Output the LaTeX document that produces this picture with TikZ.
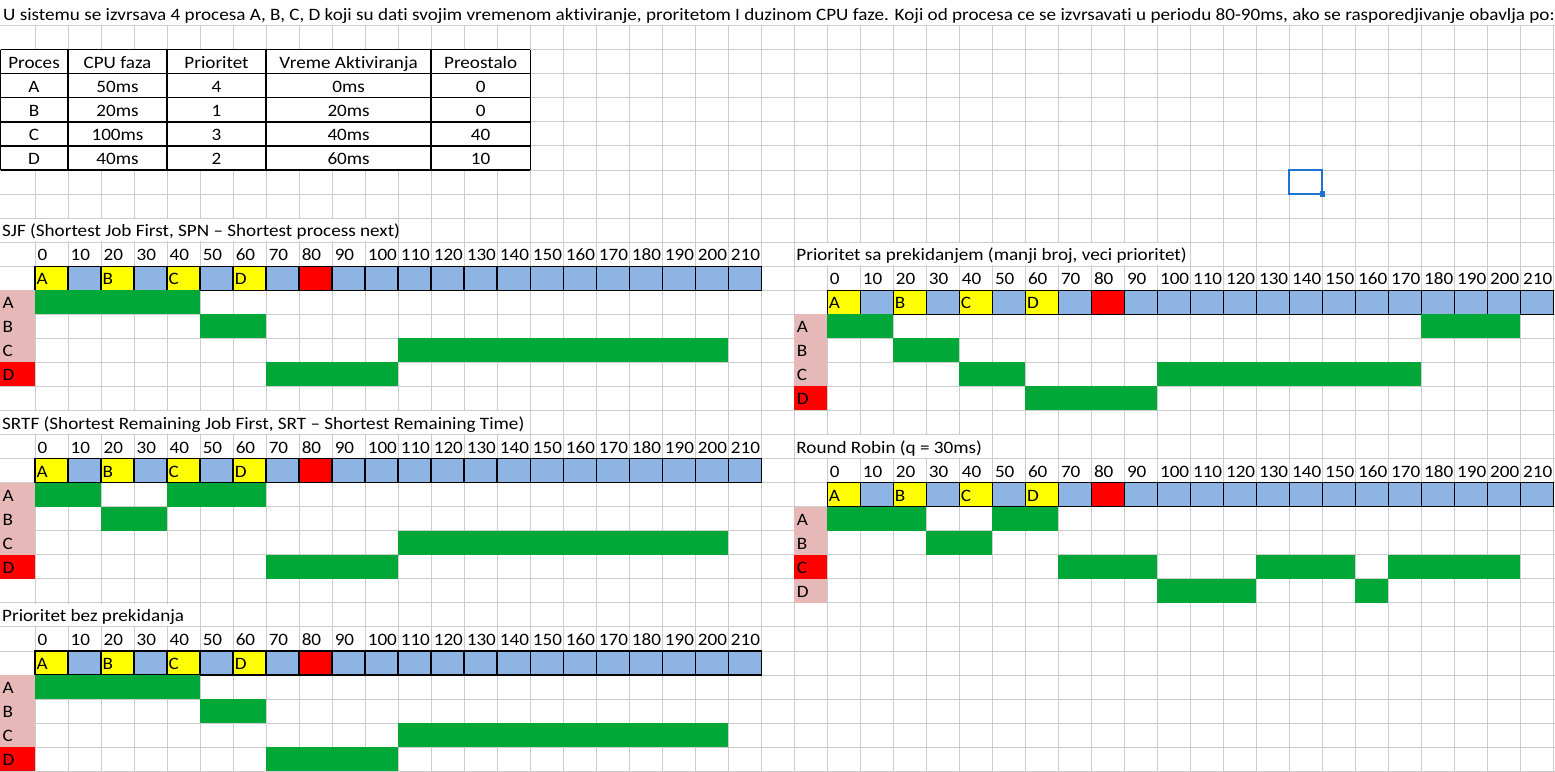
\documentclass[tikz,border=0pt]{standalone}
\usepackage{fontspec}
\setmainfont{Carlito}[FakeStretch=1.10,Ligatures={TeX,NoCommon}]
\definecolor{gridgray}{HTML}{CCCCCC}
\definecolor{baryellow}{HTML}{FFFF00}
\definecolor{barblue}{HTML}{8EB4E3}
\definecolor{barred}{HTML}{FF0000}
\definecolor{labpink}{HTML}{E6B8B7}
\definecolor{rungreen}{HTML}{00A838}
\definecolor{selblue}{HTML}{1E74D2}
\newcommand\fs{\fontsize{17.4}{20}\selectfont}
% bottom edge of spreadsheet row #1
\newcommand\ry[1]{(1.6+24.05*(#1))}
% right edge of spreadsheet column #1 (column 0 is the narrow first one)
\newcommand\cx[1]{(35+33.01*(#1))}
% one Gantt block: label column, time axis, time bar
\newcommand\gantt[7]{%
  % #1 id, #2 left x of label column, #3 label column width,
  % #4 heading row, #5 heading, #6 right end of heading, #7 label drawn red
  \fill[white] ({#2+0.7},{\ry{#4-1}+0.7}) rectangle ({#6-0.7},{\ry{#4}-0.7});
  \node[txt] (#1-head) at ({#2+2},{\ry{#4}-5.5}) {#5};
  \foreach \i in {0,...,21}{%
    \pgfmathtruncatemacro\t{10*\i}%
    \node[txt] (#1-t\i) at ({#2+#3+33.01*\i+2.5},{\ry{#4+1}-5.5}) {\t};
    \ifnum\i=8 \def\bc{barred}\else\ifodd\i\def\bc{barblue}\else\ifnum\i<8 \def\bc{baryellow}\else\def\bc{barblue}\fi\fi\fi
    \filldraw[barcell,fill=\bc] ({#2+#3+33.01*\i},{\ry{#4+1}}) rectangle ({#2+#3+33.01*(\i+1)},{\ry{#4+2}});
  }
  \foreach \i/\L in {0/A,2/B,4/C,6/D}{%
    \node[txt] (#1-bar\L) at ({#2+#3+33.01*\i+1.5},{\ry{#4+2}-5.3}) {\L};
  }
  \foreach \k/\L in {1/A,2/B,3/C,4/D}{%
    \ifnum\k=#7 \def\lc{barred}\else\def\lc{labpink}\fi
    \fill[\lc] ({#2},{\ry{#4+1+\k}}) rectangle ({#2+#3},{\ry{#4+2+\k}});
    \node[txt] (#1-p\L) at ({#2+2.5},{\ry{#4+2+\k}-5.5}) {\L};
  }
}
% a green run: #1 bar start x, #2 heading row, #3 process row (1-4), #4 first slot, #5 end slot
\newcommand\run[5]{%
  \fill[rungreen] ({#1+33.01*#4},{\ry{#2+1+#3}}) rectangle ({#1+33.01*#5},{\ry{#2+2+#3}});}
\begin{document}
\begin{tikzpicture}[x=1pt,y=-1pt,
  txt/.style={anchor=base west,inner sep=0pt,font=\fs},
  ctr/.style={anchor=base,inner sep=0pt,font=\fs},
  gridline/.style={draw=gridgray,line width=0.9pt},
  barcell/.style={draw=black,line width=1.3pt},
  tabline/.style={draw=black,line width=1.3pt}]
\useasboundingbox (0,0) rectangle (1555,771);
\fill[white] (0,0) rectangle (1555,771);

% sheet grid
\foreach \k in {1,...,32}
  \draw[gridline] (0,{\ry{\k}}) -- (1555,{\ry{\k}});
\foreach \m in {0,...,46}
  \draw[gridline] ({\cx{\m}},{\ry{1}}) -- ({\cx{\m}},771);

% task statement
\node[txt] (task) at (3,{\ry{1}-5}) {U sistemu se izvrsava 4 procesa A, B, C, D koji su dati svojim vremenom aktiviranje, proritetom I duzinom CPU faze. Koji od procesa ce se izvrsavati u periodu 80-90ms, ako se rasporedjivanje obavlja po:};

% process table
\fill[white] (0,{\ry{2}}) rectangle ({\cx{15}},{\ry{7}});
\foreach \k in {2,...,7}
  \draw[tabline] (0.6,{\ry{\k}}) -- ({\cx{15}},{\ry{\k}});
\foreach \x in {0.6,{\cx{1}},{\cx{4}},{\cx{7}},{\cx{12}},{\cx{15}}}
  \draw[tabline] ({\x},{\ry{2}}) -- ({\x},{\ry{7}});
\foreach \r/\a/\b/\c/\d/\e in {3/Proces/CPU faza/Prioritet/Vreme Aktiviranja/Preostalo,
    4/A/50ms/4/0ms/0, 5/B/20ms/1/20ms/0, 6/C/100ms/3/40ms/40, 7/D/40ms/2/60ms/10}{%
  \node[ctr] (tab\r a) at ({\cx{1}/2},{\ry{\r}-5.5}) {\a};
  \node[ctr] (tab\r b) at ({(\cx{1}+\cx{4})/2},{\ry{\r}-5.5}) {\b};
  \node[ctr] (tab\r c) at ({(\cx{4}+\cx{7})/2},{\ry{\r}-5.5}) {\c};
  \node[ctr] (tab\r d) at ({(\cx{7}+\cx{12})/2},{\ry{\r}-5.5}) {\d};
  \node[ctr] (tab\r e) at ({(\cx{12}+\cx{15})/2},{\ry{\r}-5.5}) {\e};
}

% selected cell
\draw[selblue,line width=2pt] ({\cx{38}},{\ry{7}}) rectangle ({\cx{39}},{\ry{8}});
\fill[selblue] ({\cx{39}-2.8},{\ry{8}-2.8}) rectangle ({\cx{39}+2.8},{\ry{8}+2.8});

% SJF
\gantt{sjf}{0}{35}{10}{SJF (Shortest Job First, SPN – Shortest process next)}{\cx{11}}{4}
\run{35}{10}{1}{0}{5}
\run{35}{10}{2}{5}{7}
\run{35}{10}{3}{11}{21}
\run{35}{10}{4}{7}{11}

% SRTF
\gantt{srtf}{0}{35}{18}{SRTF (Shortest Remaining Job First, SRT – Shortest Remaining Time)}{\cx{15}}{4}
\run{35}{18}{1}{0}{2}
\run{35}{18}{1}{4}{7}
\run{35}{18}{2}{2}{4}
\run{35}{18}{3}{11}{21}
\run{35}{18}{4}{7}{11}

% non-preemptive priority
\gantt{npp}{0}{35}{26}{Prioritet bez prekidanja}{\cx{5}}{4}
\run{35}{26}{1}{0}{5}
\run{35}{26}{2}{5}{7}
\run{35}{26}{3}{11}{21}
\run{35}{26}{4}{7}{11}

% preemptive priority
\gantt{pp}{\cx{23}}{33.01}{11}{Prioritet sa prekidanjem (manji broj, veci prioritet)}{\cx{35}}{4}
\run{\cx{24}}{11}{1}{0}{2}
\run{\cx{24}}{11}{1}{18}{21}
\run{\cx{24}}{11}{2}{2}{4}
\run{\cx{24}}{11}{3}{4}{6}
\run{\cx{24}}{11}{3}{10}{18}
\run{\cx{24}}{11}{4}{6}{10}

% round robin
\gantt{rr}{\cx{23}}{33.01}{19}{Round Robin (q = 30ms)}{\cx{29}}{3}
\run{\cx{24}}{19}{1}{0}{3}
\run{\cx{24}}{19}{1}{5}{7}
\run{\cx{24}}{19}{2}{3}{5}
\run{\cx{24}}{19}{3}{7}{10}
\run{\cx{24}}{19}{3}{13}{16}
\run{\cx{24}}{19}{3}{17}{21}
\run{\cx{24}}{19}{4}{10}{13}
\run{\cx{24}}{19}{4}{16}{17}
\end{tikzpicture}
\end{document}
